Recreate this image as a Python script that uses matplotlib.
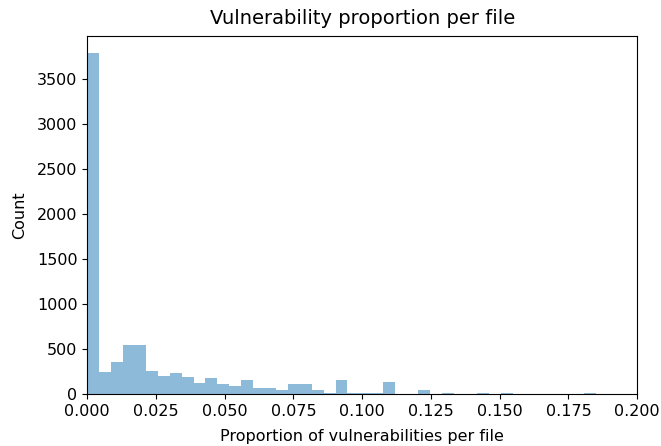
import numpy as np
import matplotlib
matplotlib.use("Agg")
import matplotlib.pyplot as plt

# histogram of per-file vulnerability proportions, 43 equal bins
bin_edges = np.linspace(0, 0.1849, 44)
counts = [
    3792, 251, 355, 544, 544, 262, 207, 233, 189, 122,
    178, 118, 94, 159, 73, 73, 48, 114, 114, 48,
    15, 159, 18, 18, 18, 135, 4, 4, 45, 0,
    10, 0, 0, 10, 0, 10, 0, 0, 0, 0,
    0, 0, 10,
]

centers = (bin_edges[:-1] + bin_edges[1:]) / 2

plt.rcParams["font.size"] = 11.5
plt.rcParams["axes.titlesize"] = 14

fig = plt.figure(figsize=(6.61, 4.46), dpi=100)
ax = fig.add_axes([0.132, 0.116, 0.832, 0.803])
ax.hist(centers, bins=bin_edges, weights=counts, alpha=0.5)
ax.set_xlim(0, 0.2)
ax.set_title("Vulnerability proportion per file", pad=8.5)
ax.set_xlabel("Proportion of vulnerabilities per file", labelpad=7.5)
ax.set_ylabel("Count", labelpad=7)

fig.savefig("out.png", dpi=100)
